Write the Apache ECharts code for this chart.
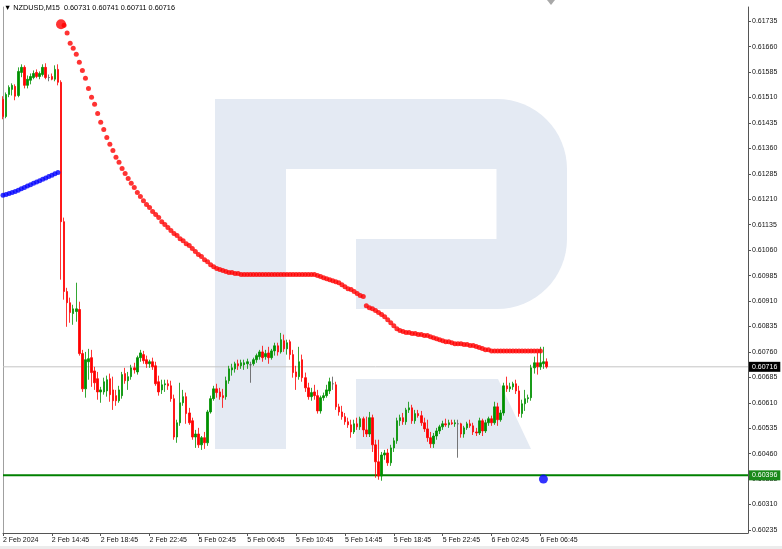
<!DOCTYPE html>
<html><head><meta charset="utf-8">
<script src="https://cdn.jsdelivr.net/npm/echarts@6.0.0/dist/echarts.min.js"></script>
<style>html,body{margin:0;padding:0;background:#fff}#c{width:782px;height:549px}</style>
</head><body><div id="c"></div>
<script>
const symbolName = 'NZDUSD,M15';
const tickLabels = ['2 Feb 2024','2 Feb 14:45','2 Feb 18:45','2 Feb 22:45','5 Feb 02:45','5 Feb 06:45','5 Feb 10:45','5 Feb 14:45','5 Feb 18:45','5 Feb 22:45','6 Feb 02:45','6 Feb 06:45'];
const barsPerTick = 16;
const totalSlots = 245;
const priceTicks = [0.61735,0.61660,0.61585,0.61510,0.61435,0.61360,0.61285,0.61210,0.61135,0.61060,0.60985,0.60910,0.60835,0.60760,0.60685,0.60610,0.60535,0.60460,0.60385,0.60310,0.60235];
// [open, close, low, high]
const candles = [
[0.61505,0.61454,0.61446,0.61514],[0.61454,0.61519,0.61449,0.61525],[0.61519,0.61540,0.61511,0.61546],[0.61534,0.61546,0.61516,0.61552],[0.61543,0.61514,0.61502,0.61549],
[0.61516,0.61587,0.61511,0.61599],[0.61584,0.61599,0.61570,0.61608],[0.61599,0.61546,0.61537,0.61605],[0.61546,0.61564,0.61537,0.61575],[0.61561,0.61572,0.61549,0.61581],
[0.61569,0.61581,0.61564,0.61590],[0.61584,0.61572,0.61567,0.61593],[0.61572,0.61581,0.61564,0.61587],[0.61578,0.61599,0.61572,0.61608],[0.61599,0.61569,0.61564,0.61611],
[0.61569,0.61569,0.61558,0.61578],[0.61572,0.61564,0.61561,0.61581],[0.61564,0.61593,0.61558,0.61605],[0.61593,0.61555,0.61546,0.61608],[0.61555,0.61144,0.60973,0.61561],
[0.61144,0.60938,0.60914,0.61156],[0.60938,0.60905,0.60834,0.60949],[0.60905,0.60876,0.60846,0.60920],[0.60873,0.60887,0.60840,0.60899],[0.60879,0.60887,0.60849,0.60964],
[0.60885,0.60755,0.60749,0.60908],[0.60755,0.60651,0.60642,0.60766],[0.60651,0.60737,0.60625,0.60760],[0.60731,0.60740,0.60678,0.60769],[0.60743,0.60699,0.60657,0.60766],
[0.60704,0.60669,0.60648,0.60716],[0.60681,0.60642,0.60619,0.60701],[0.60642,0.60648,0.60610,0.60657],[0.60642,0.60672,0.60634,0.60684],[0.60645,0.60678,0.60628,0.60690],
[0.60681,0.60634,0.60613,0.60696],[0.60648,0.60616,0.60589,0.60687],[0.60631,0.60616,0.60601,0.60648],[0.60616,0.60648,0.60610,0.60660],[0.60631,0.60693,0.60622,0.60701],
[0.60696,0.60675,0.60666,0.60713],[0.60675,0.60687,0.60648,0.60701],[0.60687,0.60713,0.60678,0.60722],[0.60713,0.60707,0.60696,0.60728],[0.60701,0.60743,0.60693,0.60749],
[0.60743,0.60757,0.60731,0.60766],[0.60752,0.60734,0.60725,0.60763],[0.60737,0.60725,0.60713,0.60749],[0.60725,0.60731,0.60713,0.60737],[0.60731,0.60716,0.60707,0.60743],
[0.60719,0.60666,0.60660,0.60731],[0.60672,0.60642,0.60631,0.60690],[0.60648,0.60663,0.60636,0.60678],[0.60663,0.60666,0.60642,0.60678],[0.60666,0.60660,0.60648,0.60678],
[0.60660,0.60622,0.60613,0.60675],[0.60622,0.60509,0.60501,0.60634],[0.60509,0.60551,0.60492,0.60560],[0.60551,0.60610,0.60542,0.60669],[0.60610,0.60628,0.60601,0.60648],
[0.60628,0.60578,0.60548,0.60640],[0.60580,0.60551,0.60545,0.60595],[0.60557,0.60509,0.60501,0.60566],[0.60509,0.60518,0.60477,0.60530],[0.60518,0.60486,0.60477,0.60536],
[0.60486,0.60507,0.60471,0.60512],[0.60507,0.60492,0.60474,0.60524],[0.60492,0.60583,0.60483,0.60589],[0.60583,0.60622,0.60578,0.60631],[0.60622,0.60651,0.60616,0.60660],
[0.60651,0.60640,0.60625,0.60666],[0.60642,0.60628,0.60619,0.60654],[0.60631,0.60625,0.60595,0.60651],[0.60628,0.60675,0.60619,0.60687],[0.60675,0.60710,0.60666,0.60719],
[0.60707,0.60713,0.60690,0.60725],[0.60710,0.60725,0.60699,0.60731],[0.60725,0.60719,0.60707,0.60737],[0.60719,0.60728,0.60710,0.60737],[0.60722,0.60728,0.60707,0.60737],
[0.60725,0.60731,0.60710,0.60740],[0.60722,0.60722,0.60669,0.60731],[0.60725,0.60737,0.60719,0.60743],[0.60737,0.60749,0.60728,0.60755],[0.60746,0.60760,0.60737,0.60766],
[0.60760,0.60743,0.60731,0.60778],[0.60746,0.60755,0.60737,0.60766],[0.60757,0.60743,0.60725,0.60775],[0.60743,0.60763,0.60737,0.60769],[0.60763,0.60778,0.60749,0.60787],
[0.60778,0.60760,0.60749,0.60787],[0.60760,0.60796,0.60755,0.60816],[0.60793,0.60769,0.60760,0.60811],[0.60769,0.60787,0.60752,0.60796],[0.60790,0.60752,0.60737,0.60796],
[0.60752,0.60699,0.60684,0.60766],[0.60701,0.60687,0.60648,0.60719],[0.60687,0.60731,0.60678,0.60775],[0.60737,0.60684,0.60672,0.60752],[0.60684,0.60654,0.60642,0.60699],
[0.60654,0.60628,0.60619,0.60669],[0.60628,0.60640,0.60616,0.60654],[0.60642,0.60631,0.60619,0.60663],[0.60631,0.60586,0.60578,0.60648],[0.60586,0.60625,0.60578,0.60631],
[0.60625,0.60631,0.60616,0.60640],[0.60631,0.60648,0.60625,0.60663],[0.60645,0.60672,0.60636,0.60684],[0.60666,0.60666,0.60648,0.60687],[0.60663,0.60598,0.60589,0.60672],
[0.60598,0.60583,0.60572,0.60607],[0.60583,0.60569,0.60560,0.60601],[0.60569,0.60554,0.60545,0.60580],[0.60554,0.60545,0.60536,0.60566],[0.60545,0.60524,0.60507,0.60560],
[0.60524,0.60548,0.60518,0.60560],[0.60548,0.60539,0.60530,0.60566],[0.60539,0.60563,0.60530,0.60569],[0.60563,0.60530,0.60509,0.60569],[0.60530,0.60518,0.60509,0.60569],
[0.60518,0.60566,0.60509,0.60583],[0.60566,0.60486,0.60465,0.60575],[0.60486,0.60436,0.60389,0.60501],[0.60436,0.60394,0.60383,0.60501],[0.60394,0.60456,0.60380,0.60465],
[0.60456,0.60462,0.60442,0.60471],[0.60462,0.60433,0.60424,0.60474],[0.60433,0.60477,0.60424,0.60486],[0.60477,0.60498,0.60465,0.60507],[0.60498,0.60557,0.60489,0.60566],
[0.60557,0.60566,0.60542,0.60575],[0.60566,0.60554,0.60545,0.60580],[0.60554,0.60589,0.60545,0.60595],[0.60589,0.60595,0.60580,0.60613],[0.60595,0.60557,0.60548,0.60604],
[0.60557,0.60578,0.60548,0.60589],[0.60578,0.60572,0.60566,0.60589],[0.60572,0.60551,0.60542,0.60586],[0.60551,0.60533,0.60524,0.60566],[0.60533,0.60507,0.60495,0.60560],
[0.60507,0.60489,0.60477,0.60524],[0.60489,0.60512,0.60477,0.60521],[0.60512,0.60527,0.60501,0.60536],[0.60527,0.60539,0.60518,0.60545],[0.60539,0.60548,0.60530,0.60557],
[0.60548,0.60545,0.60539,0.60563],[0.60545,0.60551,0.60536,0.60560],[0.60551,0.60548,0.60545,0.60560],[0.60548,0.60551,0.60539,0.60560],[0.60548,0.60548,0.60448,0.60560],
[0.60548,0.60518,0.60507,0.60551],[0.60518,0.60536,0.60507,0.60542],[0.60536,0.60548,0.60530,0.60554],[0.60548,0.60542,0.60536,0.60560],[0.60542,0.60524,0.60515,0.60551],
[0.60524,0.60521,0.60512,0.60536],[0.60521,0.60557,0.60515,0.60566],[0.60557,0.60527,0.60512,0.60563],[0.60527,0.60551,0.60521,0.60560],[0.60551,0.60563,0.60542,0.60569],
[0.60563,0.60551,0.60542,0.60572],[0.60551,0.60598,0.60545,0.60613],[0.60598,0.60560,0.60542,0.60610],[0.60560,0.60580,0.60554,0.60589],[0.60580,0.60660,0.60572,0.60669],
[0.60660,0.60651,0.60642,0.60687],[0.60651,0.60657,0.60642,0.60669],[0.60657,0.60666,0.60648,0.60672],[0.60666,0.60645,0.60636,0.60678],[0.60645,0.60578,0.60569,0.60660],
[0.60578,0.60607,0.60566,0.60619],[0.60607,0.60622,0.60586,0.60648],[0.60622,0.60625,0.60610,0.60634],[0.60625,0.60713,0.60616,0.60722],[0.60713,0.60728,0.60696,0.60746],
[0.60728,0.60716,0.60693,0.60757],[0.60716,0.60728,0.60707,0.60775],[0.60725,0.60731,0.60710,0.60775],[0.60731,0.60716,0.60711,0.60741]
];
const redDotStart = 20;
const redDots = [
0.61723,0.61700,0.61670,0.61655,0.61638,0.61614,0.61590,0.61567,0.61537,0.61511,
0.61490,0.61463,0.61437,0.61416,0.61392,0.61372,0.61354,0.61334,0.61319,0.61301,
0.61286,0.61271,0.61257,0.61245,0.61230,0.61218,0.61206,0.61195,0.61186,0.61174,
0.61165,0.61156,0.61144,0.61136,0.61127,0.61118,0.61109,0.61103,0.61094,0.61088,
0.61079,0.61074,0.61065,0.61056,0.61047,0.61041,0.61032,0.61026,0.61017,0.61011,
0.61006,0.61003,0.61000,0.60997,0.60994,0.60994,0.60991,0.60991,0.60988,0.60988,
0.60988,0.60988,0.60988,0.60988,0.60988,0.60988,0.60988,0.60988,0.60988,0.60988,
0.60988,0.60988,0.60988,0.60988,0.60988,0.60988,0.60988,0.60988,0.60988,0.60988,
0.60988,0.60988,0.60988,0.60985,0.60982,0.60979,0.60976,0.60973,0.60970,0.60967,
0.60964,0.60958,0.60952,0.60946,0.60944,0.60938,0.60932,0.60926,0.60923,0.60896,
0.60890,0.60887,0.60882,0.60876,0.60870,0.60864,0.60855,0.60846,0.60837,0.60828,
0.60823,0.60820,0.60817,0.60817,0.60814,0.60814,0.60811,0.60811,0.60808,0.60808,
0.60805,0.60802,0.60799,0.60796,0.60793,0.60790,0.60790,0.60787,0.60784,0.60784,
0.60784,0.60782,0.60782,0.60779,0.60779,0.60776,0.60773,0.60770,0.60766,0.60766,
0.60763,0.60763,0.60763,0.60763,0.60763,0.60763,0.60763,0.60763,0.60763,0.60763,
0.60763,0.60763,0.60763,0.60763,0.60763,0.60763,0.60763
];
const blueDotStart = 0;
const blueDots = [0.61222,0.61224,0.61227,0.61230,0.61233,0.61237,0.61241,0.61245,0.61249,0.61253,0.61257,0.61261,0.61265,0.61269,0.61273,0.61277,0.61281,0.61285,0.61289];
const signalRed = [19, 0.61726];
const signalBlue = [177, 0.60385];
const levelGreen = 0.60396;

const FONT = "'Liberation Sans', Arial, sans-serif";
const last = candles[candles.length - 1];
const lastClose = last[1];
const titleText = '\u25BC ' + symbolName + '  ' + [last[0], last[3], last[2], last[1]].map(v => v.toFixed(5)).join(' ');
const cats = [];
for (let i = 0; i < totalSlots; i++) cats.push(String(i));
const redData = redDots.map((v, k) => [redDotStart + k, v]);
const blueData = blueDots.map((v, k) => [blueDotStart + k, v]);
const tickShown = (idx) => idx % barsPerTick === 0 && idx / barsPerTick < tickLabels.length;
const levelLine = (v, color, width, boxColor, z) => ({
  type: 'line', data: [[0, v], [totalSlots - 1, v]], symbol: 'none', silent: true, z: z,
  lineStyle: {color: color, width: width, type: 'solid'},
  endLabel: {show: true, distance: 1, formatter: v.toFixed(5), color: '#fff', backgroundColor: boxColor,
    padding: [2, 3, 1, 3], fontSize: 7, fontFamily: FONT}
});

const wm = '#e4eaf3';
const chart = echarts.init(document.getElementById('c'), null, {renderer: 'canvas'});
chart.setOption({
  animation: false,
  backgroundColor: '#ffffff',
  title: {
    text: titleText, left: 4, top: 4, padding: 0,
    textStyle: {fontSize: 7.3, fontWeight: 'normal', color: '#000', fontFamily: FONT}
  },
  grid: {left: 3, right: 34, top: 7, bottom: 16, containLabel: false, outerBoundsMode: 'none'},
  xAxis: {
    type: 'category', data: cats, boundaryGap: false,
    axisLine: {show: true, lineStyle: {color: '#555', width: 1}},
    axisTick: {show: true, length: 3, interval: (idx) => tickShown(idx), lineStyle: {color: '#555'}},
    axisLabel: {
      show: true, interval: (idx) => tickShown(idx), align: 'left', margin: 4,
      fontSize: 7, color: '#111', fontFamily: FONT,
      formatter: (val, idx) => tickLabels[idx / barsPerTick] || ''
    },
    splitLine: {show: false}
  },
  yAxis: [{
    type: 'value', position: 'right', min: 0.60226, max: 0.61777, scale: true,
    axisLine: {show: true, lineStyle: {color: '#555', width: 1}},
    axisTick: {show: true, length: 3, customValues: priceTicks, lineStyle: {color: '#555'}},
    axisLabel: {show: true, customValues: priceTicks, margin: 4, fontSize: 7, color: '#111', fontFamily: FONT,
      formatter: (v) => v.toFixed(5)},
    splitLine: {show: false}
  }, {
    type: 'value', position: 'left', min: 0.60226, max: 0.61777,
    axisLine: {show: true, onZero: false, lineStyle: {color: '#a0a0a0', width: 1}},
    axisTick: {show: false}, axisLabel: {show: false}, splitLine: {show: false}
  }],
  graphic: [
    {type: 'rect', silent: true, z: -10, shape: {x: 215, y: 99, width: 71, height: 350}, style: {fill: wm}},
    {type: 'rect', silent: true, z: -10, shape: {x: 286, y: 99, width: 211, height: 70}, style: {fill: wm}},
    {type: 'sector', silent: true, z: -10, shape: {cx: 497, cy: 169, r: 70, r0: 0, startAngle: -Math.PI / 2, endAngle: 0, clockwise: true}, style: {fill: wm}},
    {type: 'rect', silent: true, z: -10, shape: {x: 496.5, y: 168.5, width: 70.5, height: 71}, style: {fill: wm}},
    {type: 'sector', silent: true, z: -10, shape: {cx: 497, cy: 239, r: 70, r0: 0, startAngle: 0, endAngle: Math.PI / 2, clockwise: true}, style: {fill: wm}},
    {type: 'rect', silent: true, z: -10, shape: {x: 356, y: 239, width: 141.5, height: 70}, style: {fill: wm}},
    {type: 'polygon', silent: true, z: -10, shape: {points: [[356, 379], [498, 379], [531, 449], [356, 449]]}, style: {fill: wm}},
    {type: 'polygon', silent: true, shape: {points: [[547, 0], [555, 0], [551, 5]]}, style: {fill: '#a8a8a8'}},
    {type: 'rect', silent: true, shape: {x: 0, y: 546, width: 782, height: 3}, style: {fill: '#ececec'}}
  ],
  series: [
    levelLine(lastClose, '#c4c4c4', 1, '#000000', 1),
    levelLine(levelGreen, '#008000', 2, '#1a8a1a', 1),
    {
      type: 'candlestick', data: candles, barWidth: 2, clip: true, z: 3,
      itemStyle: {color: '#009000', color0: '#ff0000', borderColor: '#009000', borderColor0: '#ff0000', borderColorDoji: '#555555', borderWidth: 0.8}
    },
    {type: 'scatter', data: redData, symbol: 'circle', symbolSize: 5, itemStyle: {color: '#ff0000'}, silent: true, z: 4},
    {type: 'scatter', data: blueData, symbol: 'circle', symbolSize: 5, itemStyle: {color: '#0000ff'}, silent: true, z: 4},
    {type: 'scatter', data: [signalRed], symbol: 'circle', symbolSize: 10, itemStyle: {color: '#ff0000'}, silent: true, z: 4},
    {type: 'scatter', data: [signalBlue], symbol: 'circle', symbolSize: 9, itemStyle: {color: '#0000ff'}, silent: true, z: 4}
  ]
});
</script>
</body></html>
